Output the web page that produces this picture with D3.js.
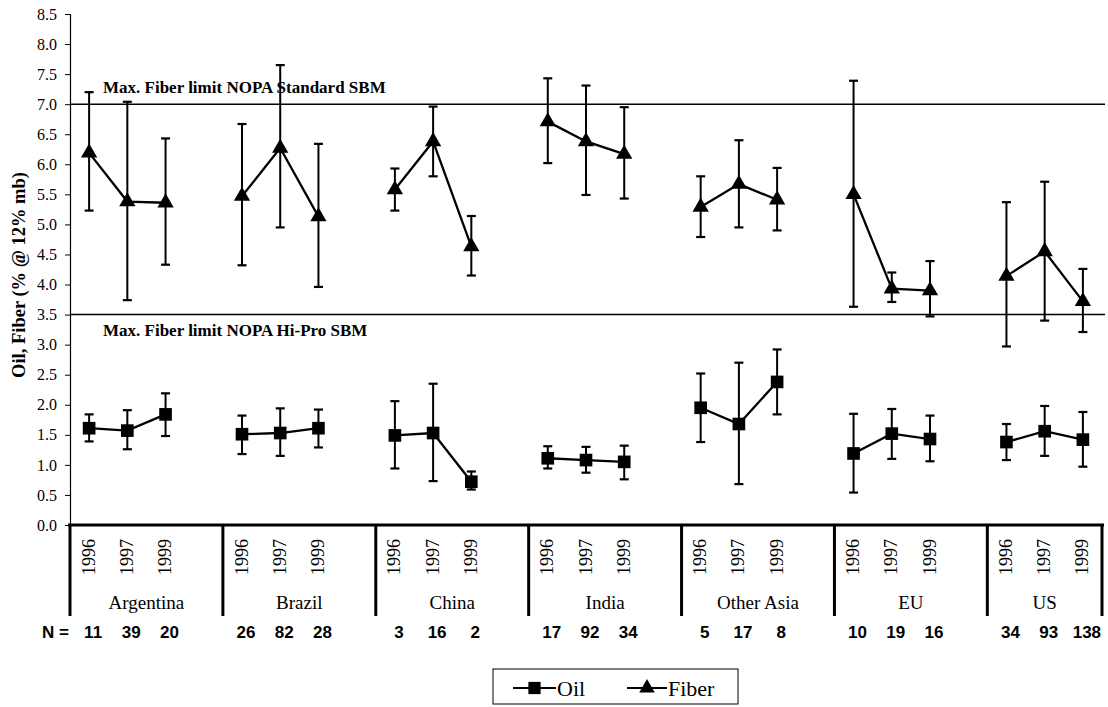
<!DOCTYPE html>
<html>
<head>
<meta charset="utf-8">
<script src="https://cdn.jsdelivr.net/npm/d3@7"></script>
<style>
  body { margin: 0; background: #fff; }
</style>
</head>
<body>
<svg id="chart" width="1108" height="707"></svg>
<script>
const countries = ["Argentina", "Brazil", "China", "India", "Other Asia", "EU", "US"]
const years = ["1996", "1997", "1999"]
const sampleN = [[11, 39, 20], [26, 82, 28], [3, 16, 2], [17, 92, 34], [5, 17, 8], [10, 19, 16], [34, 93, 138]]

// oil, mean with error bar ends
const oilMean = [[1.61, 1.57, 1.84], [1.51, 1.53, 1.61], [1.49, 1.53, 0.72], [1.11, 1.08, 1.05], [1.95, 1.68, 2.38], [1.19, 1.52, 1.43], [1.38, 1.56, 1.42]]
const oilHigh = [[1.84, 1.91, 2.19], [1.82, 1.94, 1.92], [2.06, 2.35, 0.89], [1.31, 1.30, 1.32], [2.52, 2.70, 2.92], [1.85, 1.93, 1.82], [1.68, 1.98, 1.88]]
const oilLow = [[1.39, 1.26, 1.48], [1.18, 1.15, 1.29], [0.94, 0.73, 0.59], [0.94, 0.87, 0.76], [1.38, 0.68, 1.84], [0.54, 1.10, 1.06], [1.08, 1.15, 0.97]]

// fiber
const fiberMean = [[6.19, 5.38, 5.36], [5.47, 6.27, 5.13], [5.58, 6.38, 4.63], [6.71, 6.38, 6.17], [5.29, 5.67, 5.41], [5.50, 3.93, 3.90], [4.14, 4.55, 3.72]]
const fiberHigh = [[7.20, 7.04, 6.43], [6.67, 7.65, 6.34], [5.93, 6.96, 5.14], [7.43, 7.31, 6.95], [5.80, 6.40, 5.94], [7.39, 4.20, 4.39], [5.37, 5.71, 4.26]]
const fiberLow = [[5.23, 3.74, 4.33], [4.32, 4.95, 3.96], [5.23, 5.80, 4.15], [6.02, 5.49, 5.43], [4.79, 4.95, 4.90], [3.63, 3.71, 3.47], [2.97, 3.40, 3.21]]

const limitValues = [7.0, 3.5]
const limitLabels = ["Max. Fiber limit NOPA Standard SBM", "Max. Fiber limit NOPA Hi-Pro SBM"]
const yTicks = [0, 0.5, 1, 1.5, 2, 2.5, 3, 3.5, 4, 4.5, 5, 5.5, 6, 6.5, 7, 7.5, 8, 8.5]

const SERIF = "'Liberation Serif', 'Times New Roman', Times, serif"
const SANS = "'Liberation Sans', Arial, Helvetica, sans-serif"

const svg = d3.select("#chart")

// slots: three years per country plus an empty slot between countries
let slots = []
countries.forEach((c, i) => {
  years.forEach(yr => slots.push(`${c}|${yr}`))
  if (i < countries.length - 1) slots.push(`${c}|gap`)
})

const x = d3.scaleBand().domain(slots).range([70, 1102]).padding(0)
const y = d3.scaleLinear().domain([0, 8.5]).range([525, 14])
const cx = (c, yr) => x(`${c}|${yr}`) + x.bandwidth() / 2

// y axis
const yAxis = svg.append("g")
  .attr("transform", "translate(70,0)")
  .call(d3.axisLeft(y).tickValues(yTicks).tickFormat(d3.format(".1f")).tickSize(5).tickPadding(8))
yAxis.select(".domain").attr("stroke", "#000").attr("stroke-width", 1.2)
yAxis.selectAll(".tick line").attr("stroke", "#000")
yAxis.selectAll("text")
  .attr("font-family", SERIF)
  .attr("font-size", 16)
  .attr("fill", "#000")

svg.append("text")
  .attr("transform", "translate(25,275) rotate(-90)")
  .attr("text-anchor", "middle")
  .attr("font-family", SERIF)
  .attr("font-size", 18.5)
  .attr("font-weight", "bold")
  .text("Oil, Fiber (% @ 12% mb)")

// limit lines
svg.selectAll(".limit")
  .data(limitValues)
  .join("line")
  .attr("class", "limit")
  .attr("x1", 70).attr("x2", 1105)
  .attr("y1", d => y(d)).attr("y2", d => y(d))
  .attr("stroke", "#000").attr("stroke-width", 1.5)

svg.selectAll(".limit-label")
  .data(limitValues)
  .join("text")
  .attr("class", "limit-label")
  .attr("x", 103)
  .attr("y", (d, i) => i === 0 ? y(d) - 11 : y(d) + 21)
  .attr("font-family", SERIF)
  .attr("font-size", 17)
  .attr("font-weight", "bold")
  .text((d, i) => limitLabels[i])

// category axis
svg.append("line")
  .attr("x1", 68).attr("x2", 1104)
  .attr("y1", y(0)).attr("y2", y(0))
  .attr("stroke", "#000").attr("stroke-width", 3)

const sepX = countries.map(c => x(`${c}|1996`)).concat([x.range()[1]])
svg.selectAll(".sep")
  .data(sepX)
  .join("line")
  .attr("class", "sep")
  .attr("x1", d => d).attr("x2", d => d)
  .attr("y1", y(0)).attr("y2", 616)
  .attr("stroke", "#000").attr("stroke-width", 3)

countries.forEach((c, i) => {
  years.forEach((yr, j) => {
    svg.append("text")
      .attr("transform", `translate(${cx(c, yr) + 5.5},557) rotate(-90)`)
      .attr("text-anchor", "middle")
      .attr("font-family", SERIF)
      .attr("font-size", 18)
      .text(yr)

    svg.append("text")
      .attr("x", cx(c, yr) + 4)
      .attr("y", 638)
      .attr("text-anchor", "middle")
      .attr("font-family", SANS)
      .attr("font-size", 17)
      .attr("font-weight", "bold")
      .text(sampleN[i][j])
  })
  const gx0 = sepX[i], gx1 = sepX[i + 1]
  svg.append("text")
    .attr("x", (gx0 + gx1) / 2)
    .attr("y", 609)
    .attr("text-anchor", "middle")
    .attr("font-family", SERIF)
    .attr("font-size", 19)
    .text(c)
})

svg.append("text")
  .attr("x", 42).attr("y", 638)
  .attr("font-family", SANS)
  .attr("font-size", 17)
  .attr("font-weight", "bold")
  .text("N =")

// series
const series = [
  { name: "Oil", mean: oilMean, high: oilHigh, low: oilLow, symbol: d3.symbolSquare, size: 160 },
  { name: "Fiber", mean: fiberMean, high: fiberHigh, low: fiberLow, symbol: d3.symbolTriangle, size: 115 }
]

const line = d3.line().x(d => d.x).y(d => d.y)

series.forEach(s => {
  const g = svg.append("g").attr("class", s.name)
  countries.forEach((c, i) => {
    const pts = years.map((yr, j) => ({
      x: cx(c, yr), y: y(s.mean[i][j]), hi: y(s.high[i][j]), lo: y(s.low[i][j])
    }))

    // error bars
    g.selectAll(null)
      .data(pts)
      .join("line")
      .attr("x1", d => d.x).attr("x2", d => d.x)
      .attr("y1", d => d.hi).attr("y2", d => d.lo)
      .attr("stroke", "#000").attr("stroke-width", 2)
    g.selectAll(null)
      .data(pts.flatMap(d => [d.hi, d.lo].map(v => ({ x: d.x, y: v }))))
      .join("line")
      .attr("x1", d => d.x - 4.5).attr("x2", d => d.x + 4.5)
      .attr("y1", d => d.y).attr("y2", d => d.y)
      .attr("stroke", "#000").attr("stroke-width", 2.2)

    g.append("path")
      .datum(pts)
      .attr("d", line)
      .attr("fill", "none")
      .attr("stroke", "#000")
      .attr("stroke-width", 2.3)

    g.selectAll(null)
      .data(pts)
      .join("path")
      .attr("transform", d => `translate(${d.x},${d.y})`)
      .attr("d", d3.symbol(s.symbol, s.size))
      .attr("fill", "#000")
  })
})

// legend
const legend = svg.append("g").attr("transform", "translate(493,669)")
legend.append("rect")
  .attr("width", 245).attr("height", 35)
  .attr("fill", "#fff").attr("stroke", "#000").attr("stroke-width", 1)

const legendItems = [
  { name: "Oil", x0: 20, x1: 63, symbol: d3.symbolSquare, size: 150 },
  { name: "Fiber", x0: 134, x1: 174, symbol: d3.symbolTriangle, size: 105 }
]
legendItems.forEach(it => {
  legend.append("line")
    .attr("x1", it.x0).attr("x2", it.x1)
    .attr("y1", 19).attr("y2", 19)
    .attr("stroke", "#000").attr("stroke-width", 2)
  legend.append("path")
    .attr("transform", `translate(${(it.x0 + it.x1) / 2},19)`)
    .attr("d", d3.symbol(it.symbol, it.size))
    .attr("fill", "#000")
  legend.append("text")
    .attr("x", it.x1 + 1).attr("y", 27)
    .attr("font-family", SERIF)
    .attr("font-size", 22)
    .text(it.name)
})
</script>
</body>
</html>
